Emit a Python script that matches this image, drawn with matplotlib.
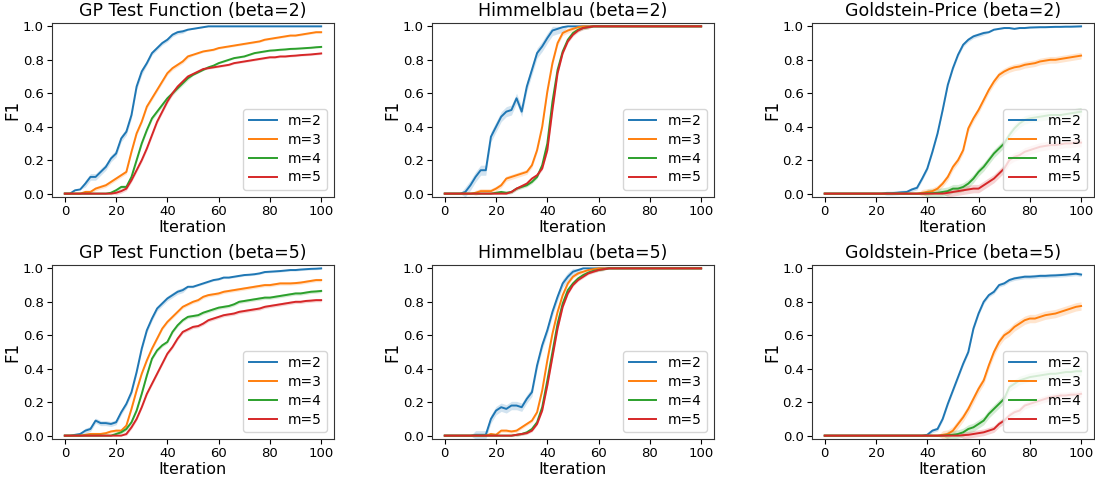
import numpy as np
import matplotlib.pyplot as plt

# iterations (sampled every 2)
iters = list(range(0, 101, 2))
labels = ["m=2", "m=3", "m=4", "m=5"]
titles = ["GP Test Function (beta=2)", "Himmelblau (beta=2)", "Goldstein-Price (beta=2)",
          "GP Test Function (beta=5)", "Himmelblau (beta=5)", "Goldstein-Price (beta=5)"]

# ---- GP Test Function, beta=2 ----
gp2_m2 = [0.0, 0.0, 0.02, 0.025, 0.06, 0.10, 0.10, 0.13, 0.16, 0.21, 0.24, 0.33, 0.37, 0.47,
          0.64, 0.73, 0.78, 0.84, 0.87, 0.90, 0.92, 0.95, 0.965, 0.97, 0.98, 0.985, 0.99,
          0.995] + [1.0] * 23
gp2_m3 = [0.0] * 4 + [0.01, 0.01, 0.03, 0.04, 0.05, 0.07, 0.09, 0.11, 0.13, 0.25,
                      0.36, 0.43, 0.52, 0.57, 0.62, 0.67, 0.72, 0.75, 0.77, 0.79,
                      0.82, 0.83, 0.84, 0.85, 0.855, 0.86, 0.87, 0.875, 0.88, 0.885,
                      0.89, 0.895, 0.9, 0.905, 0.91, 0.92, 0.925, 0.93, 0.935, 0.94,
                      0.945, 0.945, 0.95, 0.955, 0.96, 0.965, 0.965]
gp2_m4 = [0.0] * 9 + [0.005, 0.02, 0.04, 0.04, 0.1, 0.2, 0.3, 0.38, 0.45, 0.49,
                      0.53, 0.57, 0.6, 0.63, 0.66, 0.69, 0.71, 0.725, 0.74, 0.755,
                      0.765, 0.78, 0.79, 0.8, 0.81, 0.815, 0.82, 0.83, 0.84, 0.845,
                      0.85, 0.855, 0.857, 0.86, 0.862, 0.865, 0.866, 0.868, 0.87, 0.872,
                      0.875, 0.877]
gp2_m5 = [0.0] * 10 + [0.005, 0.015, 0.03, 0.08, 0.14, 0.2, 0.27, 0.35, 0.43, 0.49,
                       0.55, 0.6, 0.64, 0.67, 0.7, 0.715, 0.73, 0.745, 0.75, 0.755,
                       0.76, 0.765, 0.77, 0.78, 0.785, 0.79, 0.795, 0.8, 0.805, 0.81,
                       0.815, 0.815, 0.82, 0.82, 0.823, 0.825, 0.828, 0.83, 0.832, 0.835,
                       0.838]
gp2_err = [[0.0] * 4 + [0.02] * 12 + [0.012] * 8 + [0.003] * 27,
           [0.0] * 4 + [0.012] * 21 + [0.006] * 26,
           [0.0] * 9 + [0.012] * 16 + [0.005] * 26,
           [0.0] * 10 + [0.012] * 15 + [0.006] * 26]

# ---- Himmelblau, beta=2 ----
hb2_m2 = [0.0] * 4 + [0.01, 0.05, 0.1, 0.14, 0.14, 0.34, 0.4, 0.46, 0.49, 0.5,
                      0.57, 0.49, 0.64, 0.74, 0.84, 0.88, 0.93, 0.975, 0.985, 0.995] + [1.0] * 27
hb2_m3 = [0.0] * 6 + [0.005, 0.015, 0.015, 0.015, 0.03, 0.05, 0.09, 0.1, 0.11, 0.12,
                      0.13, 0.17, 0.26, 0.4, 0.61, 0.78, 0.9, 0.96, 0.975, 0.985,
                      0.995] + [1.0] * 24
hb2_m4 = [0.0] * 10 + [0.005, 0.01, 0.005, 0.01, 0.03, 0.04, 0.05, 0.07, 0.1, 0.17,
                       0.3, 0.55, 0.74, 0.85, 0.92, 0.96, 0.98, 0.99, 0.995] + [1.0] * 22
hb2_m5 = [0.0] * 13 + [0.01, 0.03, 0.045, 0.06, 0.09, 0.11, 0.15, 0.26, 0.5, 0.72,
                       0.84, 0.91, 0.95, 0.975, 0.99, 0.995] + [1.0] * 22
hb2_err = [[0.0] * 4 + [0.03] * 20 + [0.0] * 27,
           [0.0] * 6 + [0.015] * 21 + [0.0] * 24,
           [0.0] * 10 + [0.01] * 19 + [0.0] * 22,
           [0.0] * 13 + [0.01] * 16 + [0.0] * 22]

# ---- Goldstein-Price, beta=2 ----
gs2_m2 = [0.0] * 12 + [0.003, 0.003, 0.005, 0.008, 0.01, 0.025, 0.035, 0.09, 0.15, 0.25,
                       0.36, 0.5, 0.65, 0.75, 0.83, 0.89, 0.92, 0.94, 0.95, 0.96,
                       0.965, 0.98, 0.985, 0.99, 0.99, 0.985, 0.99, 0.99, 0.993, 0.994,
                       0.995, 0.995, 0.996, 0.997, 0.997, 0.998, 0.998, 0.999, 1.0]
gs2_m3 = [0.0] * 19 + [0.005, 0.01, 0.015, 0.03, 0.06, 0.1, 0.16, 0.2, 0.26, 0.39,
                       0.45, 0.5, 0.56, 0.62, 0.67, 0.71, 0.73, 0.745, 0.755, 0.76,
                       0.77, 0.775, 0.78, 0.79, 0.795, 0.8, 0.8, 0.805, 0.81, 0.815,
                       0.82, 0.825]
gs2_m4 = [0.0] * 20 + [0.002, 0.003, 0.005, 0.01, 0.015, 0.03, 0.03, 0.04, 0.06, 0.09,
                       0.13, 0.16, 0.2, 0.24, 0.27, 0.3, 0.35, 0.39, 0.42, 0.44,
                       0.45, 0.455, 0.46, 0.465, 0.47, 0.47, 0.47, 0.475, 0.48, 0.485,
                       0.49]
gs2_m5 = [0.0] * 24 + [0.005, 0.01, 0.015, 0.02, 0.025, 0.03, 0.03, 0.05, 0.07, 0.09,
                       0.12, 0.15, 0.2, 0.22, 0.23, 0.25, 0.26, 0.27, 0.28, 0.285,
                       0.29, 0.29, 0.295, 0.3, 0.3, 0.305, 0.305]
gs2_err = [[0.0] * 12 + [0.012] * 20 + [0.004] * 19,
           [0.0] * 19 + [0.02] * 32,
           [0.0] * 20 + [0.025] * 31,
           [0.0] * 24 + [0.025] * 27]

# ---- GP Test Function, beta=5 ----
gp5_m2 = [0.0, 0.0, 0.005, 0.01, 0.03, 0.04, 0.09, 0.075, 0.075, 0.07,
          0.08, 0.14, 0.19, 0.26, 0.38, 0.52, 0.63, 0.7, 0.76, 0.79,
          0.82, 0.84, 0.86, 0.87, 0.89, 0.89, 0.9, 0.91, 0.92, 0.93,
          0.935, 0.945, 0.945, 0.95, 0.955, 0.96, 0.962, 0.965, 0.97, 0.978,
          0.98, 0.982, 0.984, 0.987, 0.99, 0.99, 0.993, 0.995, 0.997, 0.998, 1.0]
gp5_m3 = [0.0] * 4 + [0.005, 0.01, 0.01, 0.01, 0.015, 0.025, 0.03, 0.03, 0.06, 0.16,
                      0.27, 0.37, 0.45, 0.52, 0.58, 0.64, 0.68, 0.71, 0.74, 0.77,
                      0.785, 0.8, 0.81, 0.83, 0.84, 0.845, 0.85, 0.86, 0.865, 0.87,
                      0.875, 0.88, 0.885, 0.89, 0.895, 0.9, 0.9, 0.905, 0.91, 0.91,
                      0.91, 0.912, 0.915, 0.92, 0.925, 0.93, 0.93]
gp5_m4 = [0.0] * 10 + [0.01, 0.02, 0.04, 0.08, 0.15, 0.25, 0.36, 0.46, 0.51, 0.54,
                       0.56, 0.62, 0.66, 0.69, 0.71, 0.715, 0.72, 0.735, 0.745, 0.755,
                       0.765, 0.77, 0.775, 0.785, 0.8, 0.805, 0.81, 0.815, 0.82, 0.825,
                       0.825, 0.83, 0.835, 0.84, 0.845, 0.85, 0.85, 0.855, 0.86, 0.862,
                       0.865]
gp5_m5 = [0.0] * 12 + [0.01, 0.05, 0.1, 0.17, 0.25, 0.31, 0.37, 0.43, 0.49, 0.53,
                       0.58, 0.62, 0.635, 0.65, 0.655, 0.67, 0.69, 0.7, 0.71, 0.72,
                       0.725, 0.73, 0.74, 0.745, 0.75, 0.755, 0.76, 0.77, 0.775, 0.78,
                       0.785, 0.79, 0.795, 0.8, 0.8, 0.805, 0.807, 0.81, 0.81]
gp5_err = [[0.0] * 4 + [0.015] * 20 + [0.006] * 27,
           [0.0] * 4 + [0.01] * 47,
           [0.0] * 10 + [0.01] * 41,
           [0.0] * 12 + [0.01] * 39]

# ---- Himmelblau, beta=5 ----
hb5_m2 = [0.0] * 6 + [0.005, 0.005, 0.005, 0.1, 0.15, 0.17, 0.16, 0.18, 0.18, 0.17,
                      0.22, 0.26, 0.42, 0.54, 0.63, 0.74, 0.83, 0.91, 0.95, 0.98,
                      0.99] + [1.0] * 24
hb5_m3 = [0.0] * 9 + [0.01, 0.005, 0.03, 0.03, 0.025, 0.03, 0.05, 0.07, 0.09, 0.14,
                      0.27, 0.45, 0.61, 0.74, 0.84, 0.91, 0.95, 0.97, 0.98, 0.99,
                      0.995] + [1.0] * 21
hb5_m4 = [0.0] * 14 + [0.005, 0.01, 0.02, 0.04, 0.08, 0.17, 0.33, 0.5, 0.67, 0.79,
                       0.87, 0.91, 0.94, 0.96, 0.975, 0.985, 0.99, 0.995] + [1.0] * 19
hb5_m5 = [0.0] * 14 + [0.005, 0.01, 0.015, 0.03, 0.07, 0.15, 0.3, 0.47, 0.64, 0.77,
                       0.85, 0.9, 0.93, 0.95, 0.97, 0.98, 0.99, 0.995] + [1.0] * 19
hb5_err = [[0.0] * 6 + [0.025] * 21 + [0.0] * 24,
           [0.0] * 9 + [0.01] * 21 + [0.0] * 21,
           [0.0] * 14 + [0.008] * 18 + [0.0] * 19,
           [0.0] * 14 + [0.008] * 18 + [0.0] * 19]

# ---- Goldstein-Price, beta=5 ----
gs5_m2 = [0.0] * 20 + [0.005, 0.03, 0.04, 0.1, 0.19, 0.27, 0.35, 0.43, 0.5, 0.64,
                       0.73, 0.8, 0.84, 0.86, 0.9, 0.91, 0.93, 0.94, 0.945, 0.95,
                       0.95, 0.952, 0.955, 0.955, 0.957, 0.958, 0.96, 0.962, 0.965, 0.968,
                       0.963]
gs5_m3 = [0.0] * 23 + [0.005, 0.01, 0.03, 0.07, 0.11, 0.16, 0.22, 0.28, 0.33, 0.42,
                       0.5, 0.56, 0.6, 0.62, 0.65, 0.67, 0.69, 0.7, 0.7, 0.71,
                       0.72, 0.725, 0.73, 0.74, 0.75, 0.76, 0.77, 0.775]
gs5_m4 = [0.0] * 24 + [0.003, 0.005, 0.01, 0.02, 0.04, 0.05, 0.07, 0.09, 0.13, 0.16,
                       0.19, 0.22, 0.29, 0.31, 0.33, 0.34, 0.35, 0.355, 0.36, 0.365,
                       0.37, 0.37, 0.375, 0.38, 0.38, 0.385, 0.385]
gs5_m5 = [0.0] * 27 + [0.003, 0.005, 0.01, 0.015, 0.02, 0.03, 0.04, 0.07, 0.09, 0.12,
                       0.14, 0.15, 0.18, 0.19, 0.2, 0.21, 0.22, 0.23, 0.235, 0.24,
                       0.24, 0.245, 0.245, 0.25]
gs5_err = [[0.0] * 20 + [0.012] * 31,
           [0.0] * 23 + [0.025] * 28,
           [0.0] * 24 + [0.025] * 27,
           [0.0] * 27 + [0.02] * 24]

panels = [
    ([gp2_m2, gp2_m3, gp2_m4, gp2_m5], gp2_err),
    ([hb2_m2, hb2_m3, hb2_m4, hb2_m5], hb2_err),
    ([gs2_m2, gs2_m3, gs2_m4, gs2_m5], gs2_err),
    ([gp5_m2, gp5_m3, gp5_m4, gp5_m5], gp5_err),
    ([hb5_m2, hb5_m3, hb5_m4, hb5_m5], hb5_err),
    ([gs5_m2, gs5_m3, gs5_m4, gs5_m5], gs5_err),
]
colors = ["tab:blue", "tab:orange", "tab:green", "tab:red"]

fig, axes = plt.subplots(2, 3, figsize=(10.95, 4.79), dpi=100)
fig.subplots_adjust(left=0.0475, right=0.999, bottom=0.0835, top=0.952,
                    wspace=0.3475, hspace=0.391)

x = np.array(iters)
for ax, title, (series, errs) in zip(axes.flat, titles, panels):
    for y, e, c, lab in zip(series, errs, colors, labels):
        y = np.array(y)
        e = np.array(e)
        ax.fill_between(x, y - e, np.minimum(y + e, 1.0), color=c, alpha=0.2, linewidth=0)
        ax.plot(x, y, color=c, linewidth=1.4, label=lab)
    ax.set_title(title, fontsize=12.5, pad=5)
    ax.set_xlabel("Iteration", fontsize=11.5, labelpad=1)
    ax.set_ylabel("F1", fontsize=12, labelpad=1)
    ax.set_xlim(-5, 105)
    ax.set_ylim(-0.02, 1.02)
    ax.set_xticks([0, 20, 40, 60, 80, 100])
    ax.set_yticks([0.0, 0.2, 0.4, 0.6, 0.8, 1.0])
    ax.tick_params(labelsize=9.5, pad=2.5)
    for sp in ax.spines.values():
        sp.set_color("0.2")
    ax.legend(loc="lower right", fontsize=10, labelspacing=0.34)

fig.savefig("out.png", dpi=100)
